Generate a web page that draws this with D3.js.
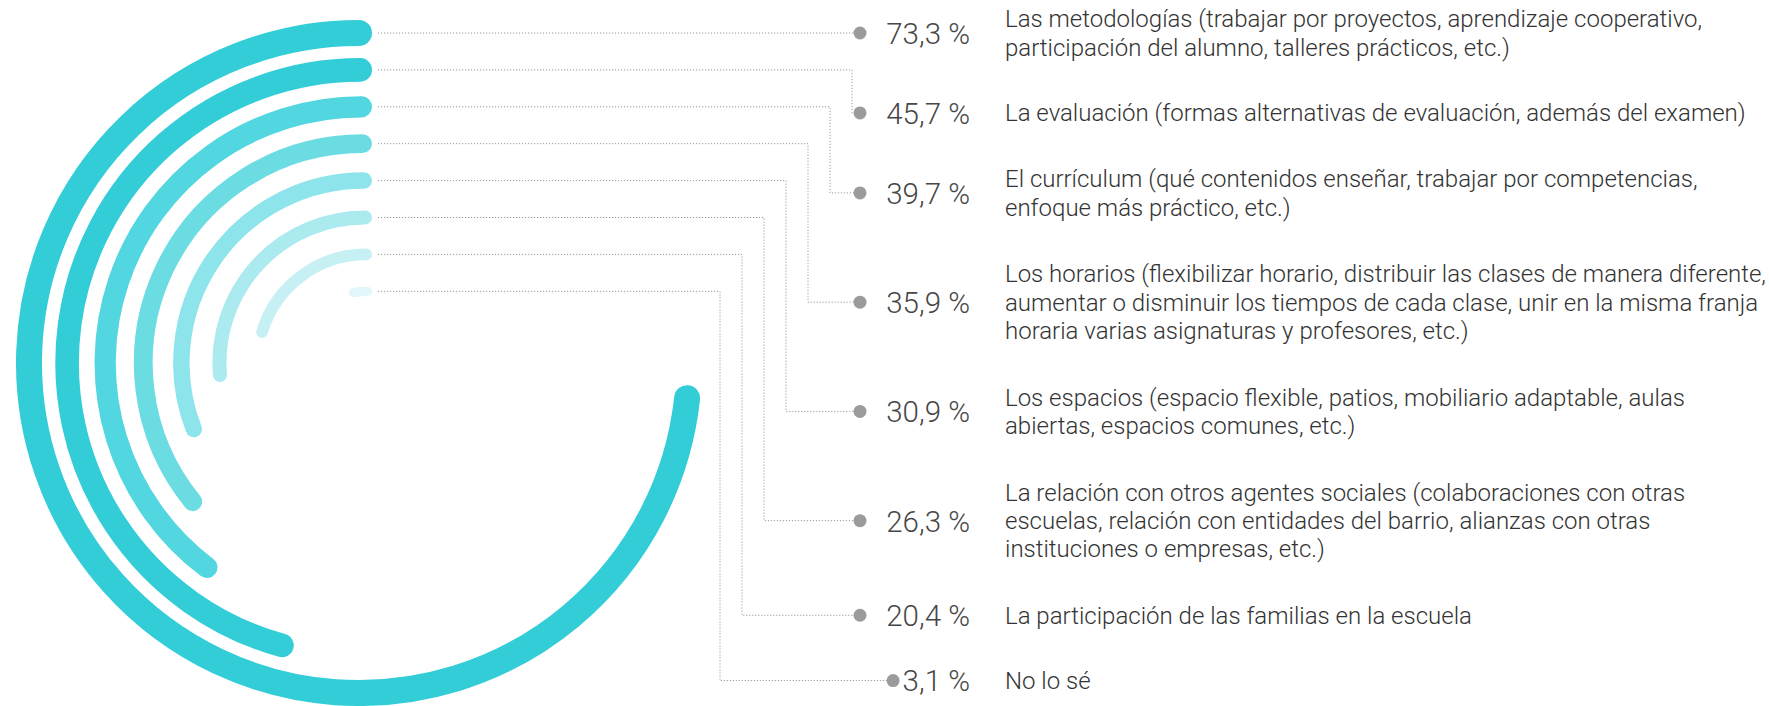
<!DOCTYPE html>
<html>
<head>
<meta charset="utf-8">
<script src="https://cdn.jsdelivr.net/npm/d3@7"></script>
<style>
    html, body { margin: 0; padding: 0; background: #fff; }
    #chart { width: 1769px; height: 706px; }
</style>
</head>
<body>
<div id="chart"></div>
<script>
// Data
const values = [73.3, 45.7, 39.7, 35.9, 30.9, 26.3, 20.4, 3.1];

const categories = [
    ["Las metodologías (trabajar por proyectos, aprendizaje cooperativo,",
     "participación del alumno, talleres prácticos, etc.)"],
    ["La evaluación (formas alternativas de evaluación, además del examen)"],
    ["El currículum (qué contenidos enseñar, trabajar por competencias,",
     "enfoque más práctico, etc.)"],
    ["Los horarios (flexibilizar horario, distribuir las clases de manera diferente,",
     "aumentar o disminuir los tiempos de cada clase, unir en la misma franja",
     "horaria varias asignaturas y profesores, etc.)"],
    ["Los espacios (espacio flexible, patios, mobiliario adaptable, aulas",
     "abiertas, espacios comunes, etc.)"],
    ["La relación con otros agentes sociales (colaboraciones con otras",
     "escuelas, relación con entidades del barrio, alianzas con otras",
     "instituciones o empresas, etc.)"],
    ["La participación de las familias en la escuela"],
    ["No lo sé"]
];

const colors = ["#33cdd8", "#33cdd8", "#52d6df", "#6cdce3", "#8de4ea", "#abeaef", "#c6f0f4", "#e2f7f9"];

// Layout
const width = 1769;
const height = 706;
const cy = 363;
const arcRight = 372;        // arc top caps line up on this x
const lineStart = 378;
const dotX = 860;
const valueRight = 970;
const labelX = 1005;
const labelSize = 24;
const labelLineH = 28.3;
const valueSize = 29.5;
const rowLineH = 29.3;
const rowGap = 36;

const n = values.length;

const locale = d3.formatLocale({ decimal: ",", thousands: ".", grouping: [3], currency: ["", " €"] });
const fmt = locale.format(".1f");

const radius = d3.scaleLinear().domain([0, n - 1]).range([330, 71.7]);
const thickness = d3.scaleLinear().domain([0, n - 1]).range([26, 9.3]);
const angle = d3.scaleLinear().domain([0, 100]).range([0, 2 * Math.PI]);
const elbow = d3.scaleLinear().domain([1, n - 1]).range([852, 720]);

const data = values.map((v, i) => ({
    value: v,
    lines: categories[i],
    r: radius(i),
    w: thickness(i),
    color: colors[i]
}));
data.forEach(d => { d.cx = arcRight - d.w / 2; });

// row centres stacked from the top of the outer arc
data.forEach((d, i) => {
    if (i === 0) d.y = cy - d.r;
    else {
        const p = data[i - 1];
        d.y = p.y + (p.lines.length + d.lines.length) / 2 * rowLineH + rowGap;
    }
});

const svg = d3.select("#chart")
    .append("svg")
    .attr("width", width)
    .attr("height", height);

// arcs, counter-clockwise from 12 o'clock
svg.selectAll("path.ring")
    .data(data)
    .enter()
    .append("path")
    .attr("class", "ring")
    .attr("d", d => {
        const p = d3.path();
        p.arc(d.cx, cy, d.r, -Math.PI / 2, -Math.PI / 2 - angle(d.value), true);
        return p.toString();
    })
    .attr("fill", "none")
    .attr("stroke", d => d.color)
    .attr("stroke-width", d => d.w)
    .attr("stroke-linecap", "round");

// value labels
const valueText = svg.selectAll("text.value")
    .data(data)
    .enter()
    .append("text")
    .attr("class", "value")
    .attr("x", valueRight)
    .attr("y", d => d.y + valueSize * 0.37)
    .attr("text-anchor", "end")
    .style("font-family", "Roboto")
    .style("font-weight", 300)
    .style("font-size", valueSize + "px")
    .style("fill", "#474747")
    .text(d => fmt(d.value) + " %");

valueText.each(function (d, i) {
    const left = valueRight - this.getComputedTextLength();
    d.dot = i === n - 1 ? left - 9.5 : dotX;
});

// dotted leaders
const leader = d3.line();
svg.selectAll("path.leader")
    .data(data)
    .enter()
    .append("path")
    .attr("class", "leader")
    .attr("d", (d, i) => {
        const y0 = cy - d.r;
        const ex = i === 0 ? d.dot : elbow(i);
        return leader([[lineStart, y0], [ex, y0], [ex, d.y], [d.dot, d.y]]);
    })
    .attr("fill", "none")
    .attr("stroke", "#9a9a9a")
    .attr("stroke-width", 1)
    .attr("stroke-dasharray", "1.2,1.8");

svg.selectAll("circle.dot")
    .data(data)
    .enter()
    .append("circle")
    .attr("class", "dot")
    .attr("cx", d => d.dot)
    .attr("cy", d => d.y)
    .attr("r", 6.5)
    .attr("fill", "#9b9b9b");

// category labels, centred on the row
const labels = svg.selectAll("text.label")
    .data(data)
    .enter()
    .append("text")
    .attr("class", "label")
    .style("font-family", "Roboto")
    .style("font-weight", 300)
    .style("font-size", labelSize + "px")
    .style("fill", "#333");

labels.selectAll("tspan")
    .data(d => d.lines.map((t, j) => ({
        t,
        y: d.y - (d.lines.length - 1) / 2 * labelLineH + j * labelLineH + labelSize * 0.355
    })))
    .enter()
    .append("tspan")
    .attr("x", labelX)
    .attr("y", d => d.y)
    .text(d => d.t);
</script>
</body>
</html>
